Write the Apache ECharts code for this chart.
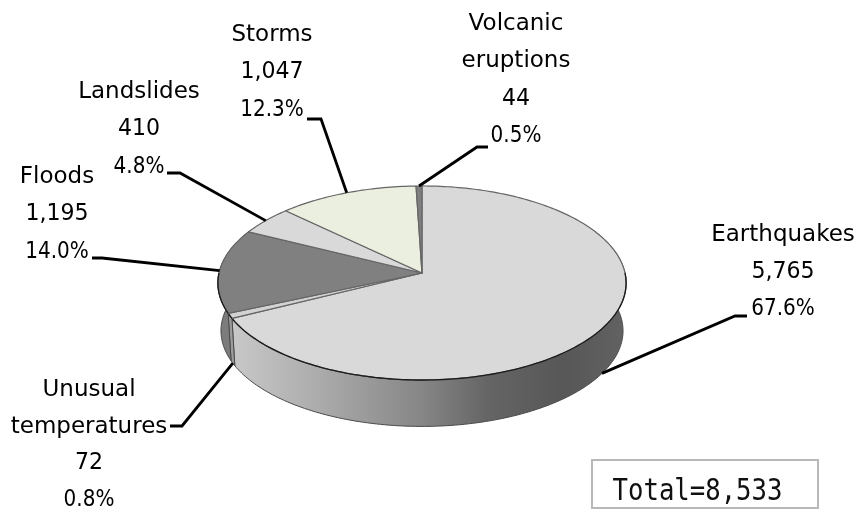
<!DOCTYPE html>
<html>
<head>
<meta charset="utf-8">
<style>html,body{margin:0;padding:0;background:#fff}#chart{width:861px;height:512px}</style>
<script src="https://cdn.jsdelivr.net/npm/echarts@6/dist/echarts.min.js"></script>
</head>
<body>
<div id="chart"></div>
<script>
// Deaths by disaster type, listed clockwise from twelve o'clock
const nameLines = [
  ['Earthquakes'],
  ['Unusual', 'temperatures'],
  ['Floods'],
  ['Landslides'],
  ['Storms'],
  ['Volcanic', 'eruptions']
];
const values = [5765, 72, 1195, 410, 1047, 44];
const totalCaption = 'Total=8,533';

// Slice colours: top face and side wall
const topColors = ['#d9d9d9', '#d2d2d2', '#808080', '#d9d9d9', '#ebefdf', '#7f7f7f'];
const wallColors = [null, '#9c9c9c', '#7c7c7c', '#808080', '#808080', '#808080'];

// Label placement: text centre, first line centre, line step, leader elbow and leader end
const labelLayout = [
  { cx: 783, y: 235, step: 37, elbow: [735, 316], end: [747, 316], onWall: true },
  { cx: 89, y: 390, step: 36.7, elbow: [182, 426], end: [170, 426], onWall: true },
  { cx: 57, y: 177, step: 37.5, elbow: [102, 258], end: [92, 258] },
  { cx: 139, y: 92, step: 37.5, elbow: [180, 173], end: [167, 173] },
  { cx: 272, y: 35, step: 37.5, elbow: [321, 119], end: [307, 119] },
  { cx: 516, y: 24, step: 37.3, elbow: [477, 147], end: [488, 147] }
];

// Pie projection: a circle seen in perspective, tilted back
const pie = { x0: 422, y0: 273, a: 203, b: 96, persp: 0.103, depth: 48, floor: 0.985 };

const total = values.reduce((s, v) => s + v, 0);
const toAngle = share => share * 2 * Math.PI;
const starts = [];
values.reduce((acc, v, i) => { starts[i] = acc; return acc + v / total; }, 0);

function rimPoint(theta, lower) {
  const u = Math.sin(theta), v = Math.cos(theta), w = 1 + pie.persp * v;
  const s = lower ? pie.floor : 1;
  return [
    pie.x0 + pie.a * s * u / w,
    pie.y0 + (lower ? pie.depth : 0) - pie.b * s * v / w
  ];
}
function arc(t0, t1, lower) {
  const n = Math.max(2, Math.ceil(Math.abs(t1 - t0) / 0.02));
  const pts = [];
  for (let i = 0; i <= n; i++) pts.push(rimPoint(t0 + (t1 - t0) * i / n, lower));
  return pts;
}
const sliceRange = i => [toAngle(starts[i]), toAngle(starts[i] + values[i] / total)];

// Front wall shading runs from light at the left to dark at the right
const wallGradient = new echarts.graphic.LinearGradient(pie.x0 - pie.a, 0, pie.x0 + pie.a, 0, [
  { offset: 0, color: '#cccccc' },
  { offset: 0.2, color: '#b2b2b2' },
  { offset: 0.5, color: '#868686' },
  { offset: 0.66, color: '#656565' },
  { offset: 0.85, color: '#575757' },
  { offset: 1, color: '#626262' }
], true);

function renderWall(params) {
  const i = params.dataIndex;
  const [a, b] = sliceRange(i);
  const lo = Math.max(a, Math.PI * 0.35), hi = Math.min(b, Math.PI * 1.65);
  if (hi <= lo) return { type: 'group', children: [] };
  const points = arc(lo, hi, false).concat(arc(hi, lo, true));
  return {
    type: 'polygon',
    shape: { points },
    style: { fill: wallColors[i] || wallGradient, stroke: '#4a4a4a', lineWidth: 1 }
  };
}

function renderTop(params) {
  const i = params.dataIndex;
  const [a, b] = sliceRange(i);
  const rim = arc(a, b, false);
  const children = [{
    type: 'polygon',
    shape: { points: [[pie.x0, pie.y0]].concat(rim) },
    style: { fill: topColors[i], stroke: '#666666', lineWidth: 1.2, lineJoin: 'round' }
  }];
  // Near edge of the face reads darker than the far edge
  const frontLo = Math.max(a, Math.PI * 0.5), frontHi = Math.min(b, Math.PI * 1.5);
  if (frontHi > frontLo) {
    children.push({
      type: 'polyline',
      shape: { points: arc(frontLo, frontHi, false) },
      style: { fill: 'none', stroke: '#1c1c1c', lineWidth: 1.3 }
    });
  }
  return { type: 'group', children };
}

function renderLabel(params) {
  const i = params.dataIndex;
  const [a, b] = sliceRange(i);
  const layout = labelLayout[i];
  const anchor = rimPoint((a + b) / 2, !!layout.onWall);
  const lines = nameLines[i].concat([
    values[i].toLocaleString('en-US'),
    (values[i] / total * 100).toFixed(1) + '%'
  ]);
  const children = [{
    type: 'polyline',
    shape: { points: [anchor, layout.elbow, layout.end] },
    style: { fill: 'none', stroke: '#000000', lineWidth: 2.8, lineJoin: 'miter' }
  }];
  lines.forEach((line, k) => {
    const isPercent = k === lines.length - 1;
    const isNumber = k === lines.length - 2;
    children.push({
      type: 'text',
      x: layout.cx,
      y: layout.y + k * layout.step,
      scaleX: isPercent ? 0.87 : (isNumber ? 0.96 : 1),
      style: {
        text: line,
        fontFamily: '"DejaVu Sans"',
        fontSize: 23,
        fill: '#000000',
        align: 'center',
        verticalAlign: 'middle'
      }
    });
  });
  return { type: 'group', children };
}

const customLayer = (name, z, renderItem) => ({
  type: 'custom',
  name,
  coordinateSystem: 'none',
  z,
  silent: true,
  animation: false,
  data: values,
  renderItem
});

const chart = echarts.init(document.getElementById('chart'), null, { renderer: 'canvas' });
chart.setOption({
  animation: false,
  backgroundColor: '#ffffff',
  series: [
    customLayer('walls', 2, renderWall),
    customLayer('faces', 3, renderTop),
    customLayer('labels', 4, renderLabel)
  ],
  graphic: [
    {
      type: 'rect',
      shape: { x: 592, y: 460, width: 226, height: 48 },
      style: { fill: '#ffffff', stroke: '#b8b8b8', lineWidth: 2 }
    },
    {
      type: 'text',
      x: 697.5,
      y: 492,
      scaleX: 0.855,
      style: {
        text: totalCaption,
        fontFamily: '"DejaVu Sans Mono"',
        fontSize: 30,
        fill: '#111111',
        align: 'center',
        verticalAlign: 'middle'
      }
    }
  ]
});
</script>
</body>
</html>
